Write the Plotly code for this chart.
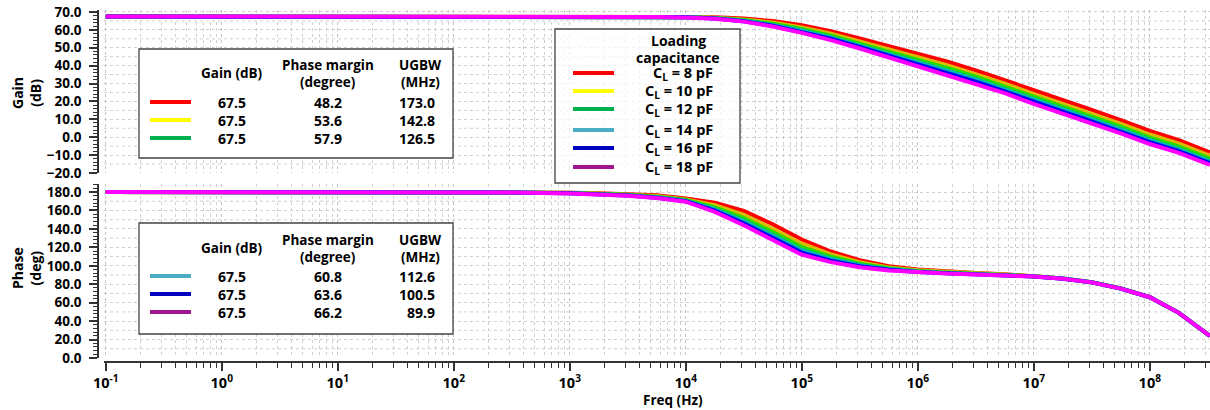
import plotly.graph_objects as go

# ---------------- data ----------------
freq = [0.1, 1, 10, 100, 316, 1000, 1780, 3160, 5620, 1e4, 1.78e4, 3.16e4, 5.62e4,
        1e5, 1.78e5, 3.16e5, 5.62e5, 1e6, 1.78e6, 3.16e6, 5.62e6, 1e7, 1.78e7,
        3.16e7, 5.62e7, 1e8, 1.78e8, 3.3e8]

series_names = ["CL = 8 pF", "CL = 10 pF", "CL = 12 pF", "CL = 14 pF", "CL = 16 pF", "CL = 18 pF"]

gain_8pF = [67.5, 67.5, 67.5, 67.5, 67.5, 67.5,
            67.5, 67.5, 67.4, 67.3, 67.0, 66.3, 64.9, 62.6, 59.2, 55.2, 51.0, 46.8,
            42.3, 37.4, 32.0, 26.2, 20.7, 15.3, 9.6, 3.5, -1.6, -8.5]
gain_10pF = [67.5, 67.5, 67.5, 67.5, 67.5, 67.5,
             67.5, 67.5, 67.3, 67.2, 66.8, 65.8, 64.1, 61.4, 57.8, 53.6, 49.2, 44.8,
             40.3, 35.4, 29.9, 24.1, 18.6, 13.2, 7.5, 1.5, -3.6, -10.5]
gain_12pF = [67.5, 67.5, 67.5, 67.5, 67.5, 67.5,
             67.5, 67.5, 67.3, 67.1, 66.6, 65.5, 63.4, 60.5, 56.8, 52.4, 47.8, 43.3,
             38.7, 33.8, 28.3, 22.5, 17.0, 11.6, 5.9, -0.2, -5.2, -12.0]
gain_14pF = [67.5, 67.5, 67.5, 67.5, 67.5, 67.5,
             67.5, 67.4, 67.3, 67.0, 66.5, 65.1, 62.8, 59.6, 55.8, 51.3, 46.6, 42.0,
             37.3, 32.4, 26.9, 21.0, 15.5, 10.1, 4.5, -1.5, -6.6, -13.3]
gain_16pF = [67.5, 67.5, 67.5, 67.5, 67.5, 67.5,
             67.5, 67.4, 67.2, 67.0, 66.3, 64.8, 62.3, 58.9, 55.0, 50.4, 45.5, 40.8,
             36.1, 31.1, 25.6, 19.8, 14.3, 8.9, 3.2, -2.8, -7.8, -14.5]
gain_18pF = [67.5, 67.5, 67.5, 67.5, 67.5, 67.5,
             67.5, 67.4, 67.2, 66.9, 66.2, 64.6, 61.9, 58.3, 54.3, 49.6, 44.6, 39.8,
             35.1, 30.1, 24.6, 18.7, 13.2, 7.8, 2.2, -3.8, -8.8, -15.5]

phase_8pF = [180, 180, 180, 179.9, 179.7, 179.3, 178.8, 178.0, 176.4, 173.0, 168.3, 159.5,
             145.0, 128.5, 115.5, 106.0, 99.5, 96.0, 93.8, 92.2, 90.8, 88.8, 86.3, 82.2,
             75.5, 66.0, 49.0, 24.0]
phase_10pF = [180, 180, 180, 179.9, 179.6, 179.1, 178.4, 177.4, 175.6, 172.0, 165.6, 155.2,
              140.2, 123.9, 112.3, 103.9, 98.2, 95.1, 93.2, 91.8, 90.5, 88.7, 86.2, 82.1,
              75.4, 66.0, 49.0, 24.0]
phase_12pF = [180, 180, 180, 179.9, 179.6, 178.9, 178.2, 177.0, 175.0, 171.3, 163.4, 151.8,
              136.5, 120.3, 109.8, 102.3, 97.3, 94.4, 92.7, 91.4, 90.2, 88.6, 86.2, 82.1,
              75.4, 66.0, 49.0, 24.0]
phase_14pF = [180, 180, 180, 179.8, 179.5, 178.7, 177.9, 176.6, 174.4, 170.6, 161.5, 148.8,
              133.3, 117.1, 107.6, 100.8, 96.4, 93.8, 92.3, 91.1, 90.0, 88.5, 86.1, 82.1,
              75.4, 65.9, 49.0, 24.0]
phase_16pF = [180, 180, 180, 179.8, 179.4, 178.6, 177.7, 176.3, 173.9, 170.0, 159.9, 146.2,
              130.4, 114.3, 105.6, 99.6, 95.6, 93.2, 91.9, 90.8, 89.8, 88.4, 86.0, 82.0,
              75.3, 65.9, 49.0, 24.0]
phase_18pF = [180, 180, 180, 179.8, 179.4, 178.5, 177.5, 176.0, 173.5, 169.5, 158.5, 144.0,
              128.0, 112.0, 104.0, 98.5, 95.0, 92.8, 91.6, 90.6, 89.6, 88.3, 86.0, 82.0,
              75.3, 65.9, 49.0, 24.0]

gains = [gain_8pF, gain_10pF, gain_12pF, gain_14pF, gain_16pF, gain_18pF]
phases = [phase_8pF, phase_10pF, phase_12pF, phase_14pF, phase_16pF, phase_18pF]

# table contents
table_gain = ["67.5", "67.5", "67.5", "67.5", "67.5", "67.5"]
table_pm = ["48.2", "53.6", "57.9", "60.8", "63.6", "66.2"]
table_ugbw = ["173.0", "142.8", "126.5", "112.6", "100.5", "89.9"]
legend_labels = ["C<sub>L</sub> = 8 pF", "C<sub>L</sub> = 10 pF", "C<sub>L</sub> = 12 pF",
                 "C<sub>L</sub> = 14 pF", "C<sub>L</sub> = 16 pF", "C<sub>L</sub> = 18 pF"]

decades = [-1, 0, 1, 2, 3, 4, 5, 6, 7, 8]
decade_text = ["10<sup>%d</sup>" % d for d in decades]

# ---------------- styling ----------------
curve_colors = ["#FF0000", "#D8BC00", "#22DD00", "#00B8B0", "#0000FF", "#FF00FF"]
legend_colors = ["#FF0000", "#FFFF00", "#00B050", "#4BACC6", "#0000C0", "#A0168C"]
FONT = "Open Sans"
AX = "#333333"
GRIDC = "#cfcfcf"

W, H = 1210, 410
ML, MR, MT, MB = 90, 0, 10, 48
PW, PH = W - ML - MR, H - MT - MB


def px(x):
    return (x - ML) / PW


def py(y):
    return (H - MB - y) / PH


fig = go.Figure()
for i in range(6):
    fig.add_trace(go.Scatter(x=freq, y=gains[i], mode="lines", name=series_names[i],
                             line=dict(color=curve_colors[i], width=4),
                             xaxis="x", yaxis="y", showlegend=False))
for i in range(6):
    fig.add_trace(go.Scatter(x=freq, y=phases[i], mode="lines", name=series_names[i],
                             line=dict(color=curve_colors[i], width=4),
                             xaxis="x2", yaxis="y2", showlegend=False))

minor_vals = [m * 10 ** d for d in range(-1, 9) for m in range(2, 10) if m * 10 ** d < 3.4e8]
xr = [-1.015, 8.519]
xdom = [px(104), 1]

tickfont = dict(family=FONT, size=13.5, color="black", weight="bold")

common_x = dict(type="log", range=xr, domain=xdom, showgrid=True, gridcolor="#c4c4c4",
                griddash="dot", gridwidth=1, zeroline=False,
                tickmode="array", tickvals=[10 ** d for d in decades], ticktext=decade_text)

fig.update_layout(
    width=W, height=H, margin=dict(l=ML, r=MR, t=MT, b=MB),
    paper_bgcolor="white", plot_bgcolor="white",
    font=dict(family=FONT, color="black"),
    xaxis=dict(**common_x, anchor="y", matches="x2", showticklabels=False, ticks="",
               showline=False,
               minor=dict(tickmode="array", tickvals=minor_vals, showgrid=True,
                          gridcolor=GRIDC, griddash="dot", ticks="")),
    xaxis2=dict(**common_x, anchor="free", position=0, showline=True, linecolor=AX,
                linewidth=1.5, ticks="outside", ticklen=8, tickcolor=AX, tickwidth=1.5,
                tickfont=dict(family=FONT, size=14.5, color="black", weight="bold"),
                minor=dict(tickmode="array", tickvals=minor_vals, showgrid=True,
                           gridcolor=GRIDC, griddash="dot", ticks="outside", ticklen=5,
                           tickcolor=AX, tickwidth=1.2)),
    yaxis=dict(domain=[py(173), 1], range=[-20, 71.1], anchor="free", position=px(98),
               tickmode="linear", tick0=-20, dtick=10, tickformat=".1f",
               showgrid=True, gridcolor=GRIDC, griddash="dot", zeroline=False,
               showline=True, linecolor=AX, linewidth=1.5, ticks="outside", ticklen=8,
               tickcolor=AX, tickwidth=1.5, tickfont=tickfont, ticklabelstandoff=5,
               minor=dict(dtick=2, tick0=0, ticks="outside", ticklen=4, tickcolor=AX,
                          tickwidth=1, showgrid=False)),
    yaxis2=dict(domain=[py(358), py(184)], range=[0, 188.7], anchor="free", position=px(98),
                tickmode="linear", tick0=0, dtick=20, tickformat=".1f",
                showgrid=True, gridcolor=GRIDC, griddash="dot", zeroline=False,
                showline=True, linecolor=AX, linewidth=1.5, ticks="outside", ticklen=8,
                tickcolor=AX, tickwidth=1.5, tickfont=tickfont, ticklabelstandoff=5,
                minor=dict(dtick=4, tick0=0, ticks="outside", ticklen=4, tickcolor=AX,
                           tickwidth=1, showgrid=False)),
)

shapes = []
# extra horizontal grid lines (half-steps)
for v in [-15, -5, 5, 15, 25, 35, 45, 55, 65]:
    shapes.append(dict(type="line", xref="x domain", yref="y", x0=0, x1=1, y0=v, y1=v,
                       line=dict(color=GRIDC, width=1, dash="dot"), layer="below"))
for v in [10, 30, 50, 70, 90, 110, 130, 150, 170]:
    shapes.append(dict(type="line", xref="x2 domain", yref="y2", x0=0, x1=1, y0=v, y1=v,
                       line=dict(color=GRIDC, width=1, dash="dot"), layer="below"))

# boxes
boxes = [(139, 49, 453, 158, "white"), (139, 223, 453, 334, "white"),
         (555, 29, 740, 183, "rgba(255,255,255,0.75)")]
for (x0, y0, x1, y1, fc) in boxes:
    shapes.append(dict(type="rect", xref="paper", yref="paper", x0=px(x0), x1=px(x1),
                       y0=py(y1), y1=py(y0), fillcolor=fc,
                       line=dict(color="#444444", width=1.3), layer="above"))

annotations = []


def txt(x, y, s, anchor="center", size=14):
    annotations.append(dict(x=px(x), y=py(y), xref="paper", yref="paper", text=s,
                            showarrow=False, xanchor=anchor, yanchor="middle",
                            font=dict(family=FONT, size=size, color="black", weight="bold")))


def seg(x0, x1, y, color):
    shapes.append(dict(type="line", xref="paper", yref="paper", x0=px(x0), x1=px(x1),
                       y0=py(y), y1=py(y), line=dict(color=color, width=4), layer="above"))


# table boxes
for t, (hy1, hy2, hg, rows) in enumerate([(65, 82, 73, [102, 120, 138]),
                                          (240, 257, 248, [276, 294, 312])]):
    txt(232, hg, "Gain (dB)", size=13.5)
    txt(328, hy1, "Phase margin", size=13.5)
    txt(328, hy2, "(degree)", size=13.5)
    txt(420, hy1, "UGBW", size=13.5)
    txt(420, hy2, "(MHz)", size=13.5)
    for r, yy in enumerate(rows):
        k = t * 3 + r
        seg(150, 191, yy, legend_colors[k])
        txt(232, yy, table_gain[k])
        txt(328, yy, table_pm[k])
        txt(437, yy, table_ugbw[k], anchor="right")

# loading capacitance legend
txt(678, 41, "Loading")
txt(678, 57, "capacitance")
for k, yy in enumerate([73, 91, 109, 130, 148, 167]):
    seg(573, 614, yy, legend_colors[k])
    txt(715, yy, legend_labels[k], anchor="right", size=14.5)

# axis titles
for (x, y, s) in [(26, 93, "Gain<br>(dB)"), (26, 268, "Phase<br>(deg)")]:
    annotations.append(dict(x=px(x), y=py(y), xref="paper", yref="paper", text=s,
                            showarrow=False, textangle=-90, xanchor="center", yanchor="middle",
                            font=dict(family=FONT, size=14, color="black", weight="bold")))
txt(673, 400, "Freq (Hz)", size=13.5)

fig.update_layout(shapes=shapes, annotations=annotations)
fig.write_html("out.html")
